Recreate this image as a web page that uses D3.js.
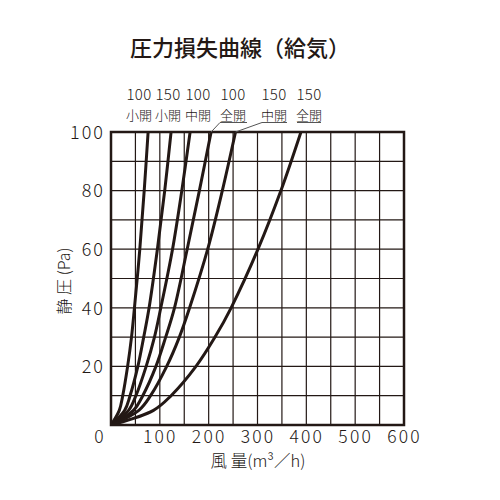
<!DOCTYPE html>
<html><head><meta charset="utf-8">
<script src="https://cdn.jsdelivr.net/npm/d3@7"></script>
<style>
body{margin:0;background:#fff;}
svg{display:block;}
text{font-family:"Noto Sans CJK JP","Noto Sans",sans-serif;fill:#231815;}
</style></head>
<body><svg id="c" width="500" height="500"></svg>
<script>
// Data
const pressures = [0, 5, 10, 20, 30, 40, 60, 80, 100];
const seriesNames = ["100 小開", "150 小開", "100 中開", "100 全開", "150 中開", "150 全開"];
const flow100Small  = [0, 17, 24, 34, 42, 48, 59, 68, 76];
const flow150Small  = [0, 28, 39, 55, 67, 78, 95, 110, 123];
const flow100Mid    = [0, 36, 51, 72, 89, 102, 126, 145, 162];
const flow100Full   = [0, 46, 65, 92, 112, 130, 156, 181, 205];
const flow150Mid    = [0, 57, 81, 114, 140, 161, 198, 228, 255];
const flow150Full   = [0, 87, 123, 174, 213, 246, 301, 348, 389];
const seriesFlows = [flow100Small, flow150Small, flow100Mid, flow100Full, flow150Mid, flow150Full];
const xTicks = [100, 200, 300, 400, 500, 600];
const yTicks = [20, 40, 60, 80, 100];
const labelSizes = ["100", "150", "100", "100", "150", "150"];
const labelOpen = ["小開", "小開", "中開", "全開", "中開", "全開"];

const svg = d3.select("#c");
const L = 111, R = 404, T = 132, B = 425;
const x = d3.scaleLinear().domain([0, 600]).range([L, R]);
const y = d3.scaleLinear().domain([0, 100]).range([B, T]);
const ink = "#231815";
const numFont = '"Noto Sans CJK JP", sans-serif';

// title
svg.append("text").attr("x", 240).attr("y", 56).attr("text-anchor", "middle")
  .attr("font-size", 22).attr("font-weight", 500).text("圧力損失曲線（給気）");

// grid
const g = svg.append("g");
g.selectAll(".vx").data(d3.range(50, 600, 50)).join("line")
  .attr("x1", d => x(d)).attr("x2", d => x(d)).attr("y1", T).attr("y2", B)
  .attr("stroke", ink).attr("stroke-width", 1.2);
g.selectAll(".hy").data(d3.range(10, 100, 10)).join("line")
  .attr("y1", d => y(d)).attr("y2", d => y(d)).attr("x1", L).attr("x2", R)
  .attr("stroke", ink).attr("stroke-width", 1.2);

// curves
const line = d3.line().x(d => x(d[0])).y(d => y(d[1])).curve(d3.curveCatmullRom.alpha(0.5));
svg.append("defs").append("clipPath").attr("id", "clip")
  .append("rect").attr("x", L).attr("y", T).attr("width", R - L).attr("height", B - T);
svg.append("g").attr("clip-path", "url(#clip)").selectAll("path")
  .data(seriesFlows).join("path")
  .attr("d", f => line(f.map((v, i) => [v, pressures[i]])))
  .attr("fill", "none").attr("stroke", ink).attr("stroke-width", 3);

// border
svg.append("rect").attr("x", L).attr("y", T).attr("width", R - L).attr("height", B - T)
  .attr("fill", "none").attr("stroke", ink).attr("stroke-width", 2.5);

// axes tick labels
const xAxis = d3.axisBottom(x).tickValues(xTicks).tickSize(0).tickPadding(0);
const gx = svg.append("g").attr("transform", `translate(0,${B})`).call(xAxis);
gx.select(".domain").remove();
gx.selectAll("text").attr("y", 17.5).attr("dy", 0).attr("font-size", 17.5).attr("font-weight", 300)
  .attr("font-family", numFont).attr("fill", ink).attr("letter-spacing", 2.2);

const yAxis = d3.axisLeft(y).tickValues(yTicks).tickSize(0).tickPadding(0);
const gy = svg.append("g").attr("transform", `translate(${L - 6},0)`).call(yAxis);
gy.select(".domain").remove();
gy.selectAll("text").attr("x", 0).attr("dy", "0.35em").attr("font-size", 18).attr("font-weight", 300)
  .attr("font-family", numFont).attr("fill", ink).attr("letter-spacing", 2);

svg.append("text").attr("x", 99).attr("y", 442.5).attr("text-anchor", "middle")
  .attr("font-size", 17.5).attr("font-weight", 300).text("0");

// axis titles
svg.append("text").attr("x", 258).attr("y", 467).attr("text-anchor", "middle")
  .attr("font-size", 16.5).attr("font-weight", 300).text("風 量(m³／h)");
svg.append("text").attr("transform", "translate(70,281) rotate(-90)").attr("text-anchor", "middle")
  .attr("font-size", 16).attr("font-weight", 300).text("静 圧 (Pa)");

// curve labels
const labelX = [139, 168, 198, 233, 274, 309];
const lab = svg.append("g");
labelX.forEach((cx, i) => {
  lab.append("text").attr("x", cx).attr("y", 100).attr("text-anchor", "middle")
    .attr("font-size", 15).attr("font-weight", 300).attr("letter-spacing", 0.3).text(labelSizes[i]);
  lab.append("text").attr("x", cx).attr("y", 119.5).attr("text-anchor", "middle")
    .attr("font-size", 13).attr("font-weight", 300).text(labelOpen[i]);
});
// underlines and leaders
const underlines = [[220, 247], [262, 287], [297, 321]];
underlines.forEach(d => {
  lab.append("line").attr("x1", d[0]).attr("x2", d[1]).attr("y1", 122.5).attr("y2", 122.5)
    .attr("stroke", "#555").attr("stroke-width", 1);
});
lab.append("line").attr("x1", 220).attr("y1", 122.5).attr("x2", x(flow100Full[8])).attr("y2", T)
  .attr("stroke", "#555").attr("stroke-width", 1);
lab.append("line").attr("x1", 262).attr("y1", 122.5).attr("x2", x(flow150Mid[8])).attr("y2", T)
  .attr("stroke", "#555").attr("stroke-width", 1);
</script></body></html>
